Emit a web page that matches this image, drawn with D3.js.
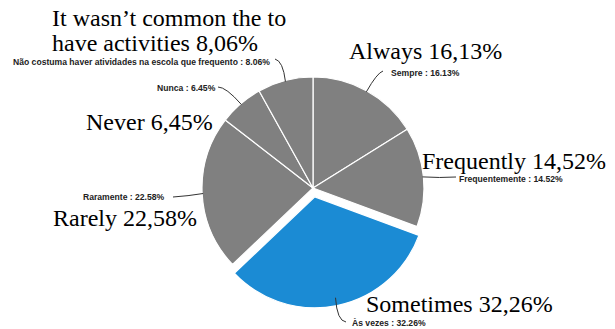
<!DOCTYPE html>
<html>
<head>
<meta charset="utf-8">
<script src="https://cdn.jsdelivr.net/npm/d3@7"></script>
<style>
  html, body { margin: 0; padding: 0; background: #fff; }
  svg { display: block; }
</style>
</head>
<body>
<svg id="chart" width="615" height="329"></svg>
<script>
// ---- Data ----
const categories = ["Sempre", "Frequentemente", "Às vezes", "Raramente", "Nunca",
  "Não costuma haver atividades na escola que frequento"];
const values = [16.13, 14.52, 32.26, 22.58, 6.45, 8.06];
const englishLabels = ["Always 16,13%", "Frequently 14,52%", "Sometimes 32,26%",
  "Rarely 22,58%", "Never 6,45%", ["It wasn\u2019t common the to", "have activities 8,06%"]];
const highlighted = "Às vezes";

// ---- Layout (positions / styles) ----
const cx = 313, cy = 188, R = 111, explode = 9;
const grey = "#808080", blue = "#1b8bd4";
// small label: text left x, baseline y, leader end point, elbow point
const smallLayout = [
  { tx: 391, ty: 76, end: [383, 71], elbow: [377, 73] },
  { tx: 459, ty: 182, end: [456, 177], elbow: [440, 178] },
  { tx: 352, ty: 326, end: [346, 322], elbow: [337, 321] },
  { tx: 83, ty: 200, end: [173, 197], elbow: [188, 196] },
  { tx: 157, ty: 91, end: [218, 87], elbow: [226, 87] },
  { tx: 13, ty: 64.5, end: [275, 59], elbow: [283, 61] }
];
const bigLayout = [
  { x: 349, y: 59 }, { x: 422, y: 169 }, { x: 366, y: 312 },
  { x: 53, y: 226 }, { x: 86, y: 130 }, { x: 52, y: 26, lh: 25 }
];

const svg = d3.select("#chart");
const pie = d3.pie().sort(null).value(d => d)(values);
const arc = d3.arc().innerRadius(0).outerRadius(R);
const g = svg.append("g").attr("transform", `translate(${cx},${cy})`);

function offsetOf(i) {
  if (categories[i] !== highlighted) return [0, 0];
  const a = (pie[i].startAngle + pie[i].endAngle) / 2;
  return [explode * Math.sin(a), -explode * Math.cos(a)];
}

g.selectAll("path.slice").data(pie).join("path")
  .attr("class", "slice")
  .attr("d", arc)
  .attr("transform", (d, i) => { const o = offsetOf(i); return `translate(${o[0]},${o[1]})`; })
  .attr("fill", (d, i) => categories[i] === highlighted ? blue : grey)
  .attr("stroke", "#fff")
  .attr("stroke-width", 1.2)
  .attr("stroke-linejoin", "round");

// leader lines and small labels
pie.forEach((d, i) => {
  const a = (d.startAngle + d.endAngle) / 2;
  const o = offsetOf(i);
  const r0 = categories[i] === highlighted ? R - 8 : R - 1;
  const sx = cx + o[0] + r0 * Math.sin(a), sy = cy + o[1] - r0 * Math.cos(a);
  const L = smallLayout[i];
  const p = d3.path();
  p.moveTo(sx, sy);
  p.quadraticCurveTo(L.elbow[0], L.elbow[1], L.end[0], L.end[1]);
  svg.append("path").attr("d", p.toString())
    .attr("fill", "none").attr("stroke", "#333").attr("stroke-width", 1);
  svg.append("text")
    .attr("x", L.tx).attr("y", L.ty)
    .attr("font-family", "Liberation Sans, Arial, sans-serif")
    .attr("font-weight", "bold")
    .attr("font-size", "8.6px")
    .attr("fill", "#222")
    .text(`${categories[i]} : ${values[i].toFixed(2)}%`);
});

// overlaid English labels
englishLabels.forEach((lab, i) => {
  const B = bigLayout[i];
  const lines = Array.isArray(lab) ? lab : [lab];
  lines.forEach((t, k) => {
    svg.append("text")
      .attr("x", B.x).attr("y", B.y + k * (B.lh || 0))
      .attr("font-family", "Liberation Serif, Times New Roman, serif")
      .attr("font-size", "24px")
      .attr("fill", "#000")
      .text(t);
  });
});
</script>
</body>
</html>
